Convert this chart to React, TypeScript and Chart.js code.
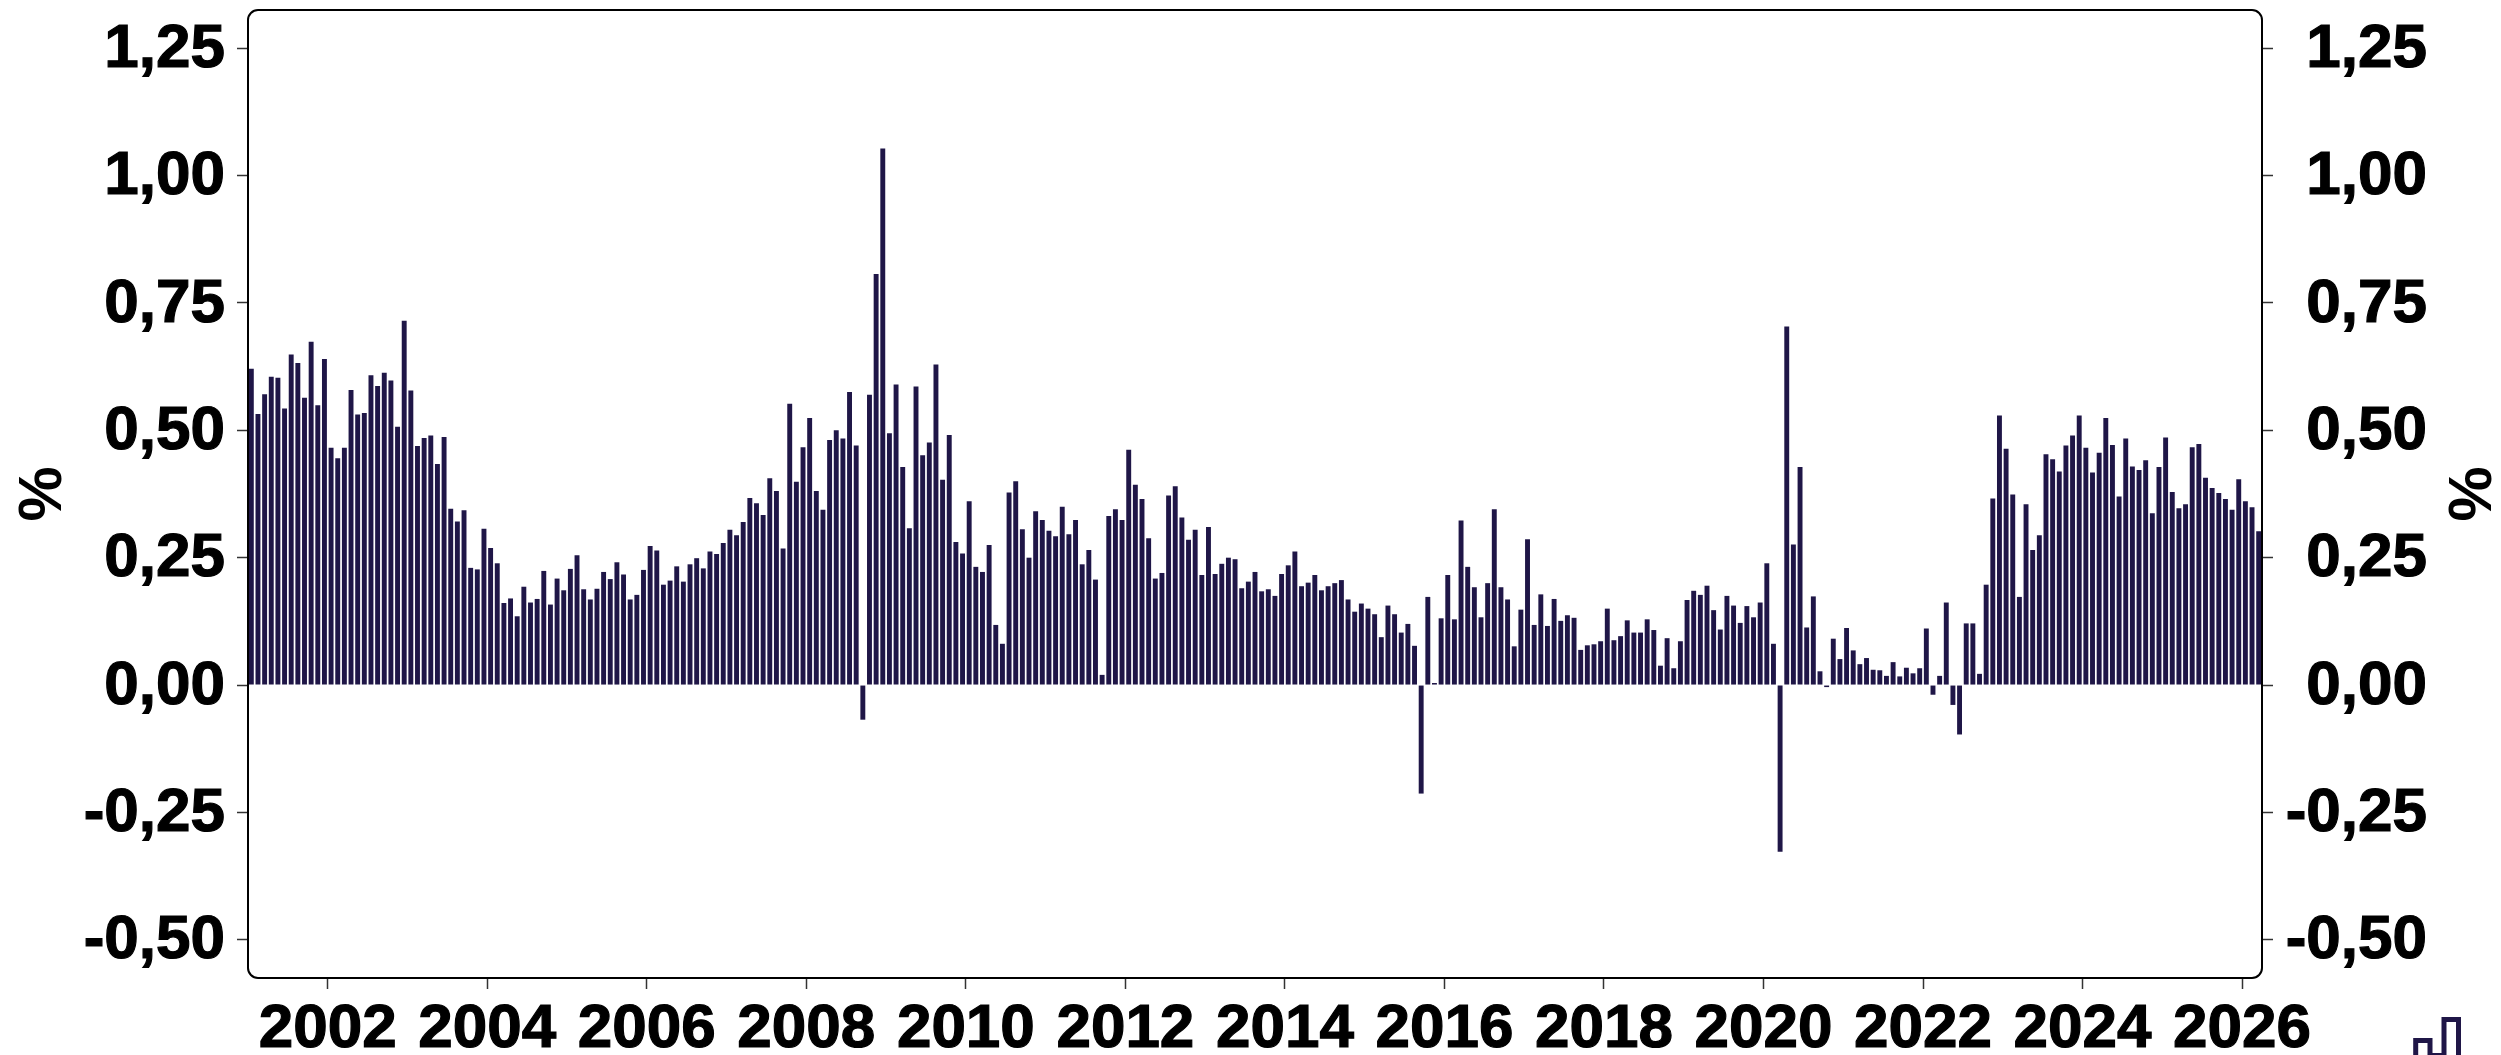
import React, { useEffect, useRef } from "react";
import { Chart, registerables } from "chart.js";

Chart.register(...registerables);

const firstYear = 2001;
const values = [
  0.621, 0.532, 0.571, 0.605, 0.603, 0.543, 0.649, 0.632, 0.564, 0.674, 0.549, 0.640,
  0.466, 0.445, 0.466, 0.579, 0.531, 0.534, 0.608, 0.587, 0.613, 0.598, 0.507, 0.715,
  0.578, 0.469, 0.485, 0.490, 0.434, 0.487, 0.346, 0.321, 0.343, 0.230, 0.227, 0.307,
  0.269, 0.239, 0.161, 0.170, 0.135, 0.193, 0.162, 0.169, 0.224, 0.158, 0.209, 0.186,
  0.228, 0.255, 0.188, 0.168, 0.189, 0.222, 0.208, 0.241, 0.217, 0.168, 0.177, 0.226,
  0.273, 0.264, 0.197, 0.205, 0.233, 0.203, 0.237, 0.249, 0.229, 0.262, 0.257, 0.279,
  0.305, 0.294, 0.320, 0.367, 0.357, 0.334, 0.406, 0.381, 0.268, 0.552, 0.399, 0.467,
  0.524, 0.381, 0.344, 0.481, 0.500, 0.484, 0.575, 0.470, -0.068, 0.570, 0.807, 1.053,
  0.494, 0.590, 0.428, 0.308, 0.586, 0.451, 0.476, 0.629, 0.403, 0.491, 0.281, 0.258,
  0.361, 0.232, 0.222, 0.275, 0.118, 0.081, 0.378, 0.400, 0.306, 0.250, 0.341, 0.324,
  0.303, 0.292, 0.350, 0.296, 0.324, 0.237, 0.265, 0.207, 0.020, 0.332, 0.345, 0.324,
  0.462, 0.393, 0.365, 0.288, 0.209, 0.220, 0.372, 0.390, 0.329, 0.285, 0.305, 0.216,
  0.310, 0.218, 0.238, 0.250, 0.247, 0.190, 0.203, 0.222, 0.184, 0.188, 0.175, 0.218,
  0.235, 0.262, 0.194, 0.201, 0.216, 0.186, 0.194, 0.200, 0.206, 0.168, 0.144, 0.160,
  0.150, 0.139, 0.094, 0.156, 0.139, 0.103, 0.120, 0.077, -0.213, 0.173, 0.004, 0.131,
  0.216, 0.129, 0.323, 0.232, 0.192, 0.133, 0.200, 0.345, 0.192, 0.168, 0.076, 0.148,
  0.286, 0.118, 0.178, 0.116, 0.169, 0.126, 0.137, 0.132, 0.069, 0.078, 0.080, 0.086,
  0.150, 0.088, 0.096, 0.127, 0.103, 0.103, 0.129, 0.108, 0.038, 0.092, 0.033, 0.086,
  0.167, 0.185, 0.177, 0.195, 0.147, 0.109, 0.175, 0.156, 0.122, 0.155, 0.133, 0.162,
  0.239, 0.081, -0.327, 0.704, 0.276, 0.428, 0.113, 0.174, 0.027, -0.004, 0.091, 0.051,
  0.112, 0.068, 0.041, 0.053, 0.030, 0.029, 0.018, 0.045, 0.017, 0.034, 0.023, 0.033,
  0.111, -0.019, 0.018, 0.162, -0.039, -0.097, 0.121, 0.121, 0.022, 0.197, 0.366, 0.529,
  0.464, 0.374, 0.173, 0.355, 0.265, 0.294, 0.453, 0.443, 0.419, 0.470, 0.490, 0.529,
  0.466, 0.417, 0.456, 0.524, 0.471, 0.370, 0.484, 0.429, 0.422, 0.441, 0.337, 0.428,
  0.486, 0.379, 0.347, 0.355, 0.467, 0.473, 0.407, 0.387, 0.377, 0.365, 0.344, 0.404,
  0.361, 0.349, 0.302,
];
const xTickYears = [2002, 2004, 2006, 2008, 2010, 2012, 2014, 2016, 2018, 2020, 2022, 2024, 2026];
const yTickValues = [-0.5, -0.25, 0, 0.25, 0.5, 0.75, 1, 1.25];
const yUnit = "%";
const barColor = "#1f1647";
const fontFamily = "'Liberation Sans', Arial, sans-serif";
const tickFont = { family: fontFamily, size: 62, weight: "bold" as const };
const titleFont = { family: fontFamily, size: 62, weight: "bold" as const, lineHeight: 1 };

const formatTick = (v: number) => v.toFixed(2).replace(".", ",");

const frameAndLogo = {
  id: "frameAndLogo",
  afterDatasetsDraw(chart: any) {
    const { ctx, chartArea: a } = chart;
    ctx.save();
    ctx.strokeStyle = "#000";
    ctx.lineWidth = 2;
    ctx.beginPath();
    ctx.roundRect(a.left, a.top, a.right - a.left, a.bottom - a.top, 10);
    ctx.stroke();
    ctx.strokeStyle = barColor;
    ctx.lineWidth = 5;
    ctx.lineJoin = "miter";
    ctx.beginPath();
    ctx.moveTo(2415.7, 1060);
    ctx.lineTo(2415.7, 1040.5);
    ctx.lineTo(2430, 1040.5);
    ctx.lineTo(2430, 1055.5);
    ctx.lineTo(2444, 1055.5);
    ctx.lineTo(2444, 1019.5);
    ctx.lineTo(2458.5, 1019.5);
    ctx.lineTo(2458.5, 1060);
    ctx.stroke();
    ctx.restore();
  },
};

const fitBox = (s: any, box: { width?: number; height?: number }) => {
  if (box.width !== undefined) s.width = box.width;
  if (box.height !== undefined) s.height = box.height;
  s.paddingTop = 0;
  s.paddingBottom = 0;
  s.paddingLeft = 0;
  s.paddingRight = 0;
};

export default function App() {
  const ref = useRef<HTMLCanvasElement>(null);
  useEffect(() => {
    const canvas = ref.current!;
    const yRange = { min: -0.575, max: 1.325 };
    const textWeight = { textStrokeWidth: 1.2, textStrokeColor: "#000" };
    const yCommon = {
      ...yRange,
      afterBuildTicks: (s: any) => {
        s.ticks = yTickValues.map((value) => ({ value }));
      },
      grid: { drawOnChartArea: false, drawTicks: true, tickLength: 11, color: "#333", tickWidth: 1.5 },
      border: { display: false },
    };
    const chart = new Chart(canvas, {
      type: "bar",
      data: {
        datasets: [
          {
            data: values.map((y, i) => ({ x: firstYear + (i + 0.5) / 12, y })),
            backgroundColor: barColor,
            categoryPercentage: 1,
            barPercentage: 0.74,
            yAxisID: "y",
            xAxisID: "x",
          },
        ],
      },
      options: {
        animation: false,
        responsive: false,
        maintainAspectRatio: false,
        layout: { autoPadding: false, padding: { top: 10, left: 0, right: 0, bottom: 0 } },
        plugins: { legend: { display: false }, tooltip: { enabled: false } },
        scales: {
          x: {
            type: "linear",
            offset: false,
            bounds: "data",
            min: firstYear,
            max: firstYear + values.length / 12,
            afterBuildTicks: (s: any) => {
              s.ticks = xTickYears.map((value) => ({ value }));
            },
            afterFit: (s: any) => fitBox(s, { height: 77 }),
            grid: { offset: false, drawOnChartArea: false, drawTicks: true, tickLength: 11, color: "#333", tickWidth: 1.5 },
            border: { display: false },
            ticks: {
              ...textWeight,
              autoSkip: false,
              maxRotation: 0,
              minRotation: 0,
              color: "#000",
              font: tickFont,
              padding: 4,
              callback: (v: any) => String(v),
            },
          },
          y: {
            ...yCommon,
            position: "left",
            afterFit: (s: any) => fitBox(s, { width: 248 }),
            title: {
              display: true,
              text: yUnit,
              color: "#000",
              font: titleFont,
              padding: { top: 13, bottom: 0 },
            },
            ticks: {
              ...textWeight,
              labelOffset: 1.5,
              color: "#000",
              font: tickFont,
              padding: 12,
              callback: (v: any) => formatTick(Number(v)),
            },
          },
          y2: {
            ...yCommon,
            position: "right",
            weight: 0,
            afterFit: (s: any) => fitBox(s, { width: 165 }),
            ticks: {
              ...textWeight,
              labelOffset: 1.5,
              color: "#000",
              font: tickFont,
              padding: 12,
              crossAlign: "far",
              callback: (v: any) => formatTick(Number(v)),
            },
          },
          yUnitRight: {
            ...yRange,
            position: "right",
            weight: 1,
            afterFit: (s: any) => fitBox(s, { width: 74 }),
            grid: { display: false },
            border: { display: false },
            ticks: { display: false },
            title: {
              display: true,
              text: yUnit,
              color: "#000",
              font: titleFont,
              padding: { top: 4, bottom: 0 },
            },
          },
        },
      },
      plugins: [frameAndLogo],
    });
    return () => chart.destroy();
  }, []);
  return (
    <canvas
      ref={ref}
      width={2501}
      height={1055}
      style={{ position: "fixed", left: 0, top: 0, width: 2501, height: 1055, display: "block" }}
    />
  );
}
